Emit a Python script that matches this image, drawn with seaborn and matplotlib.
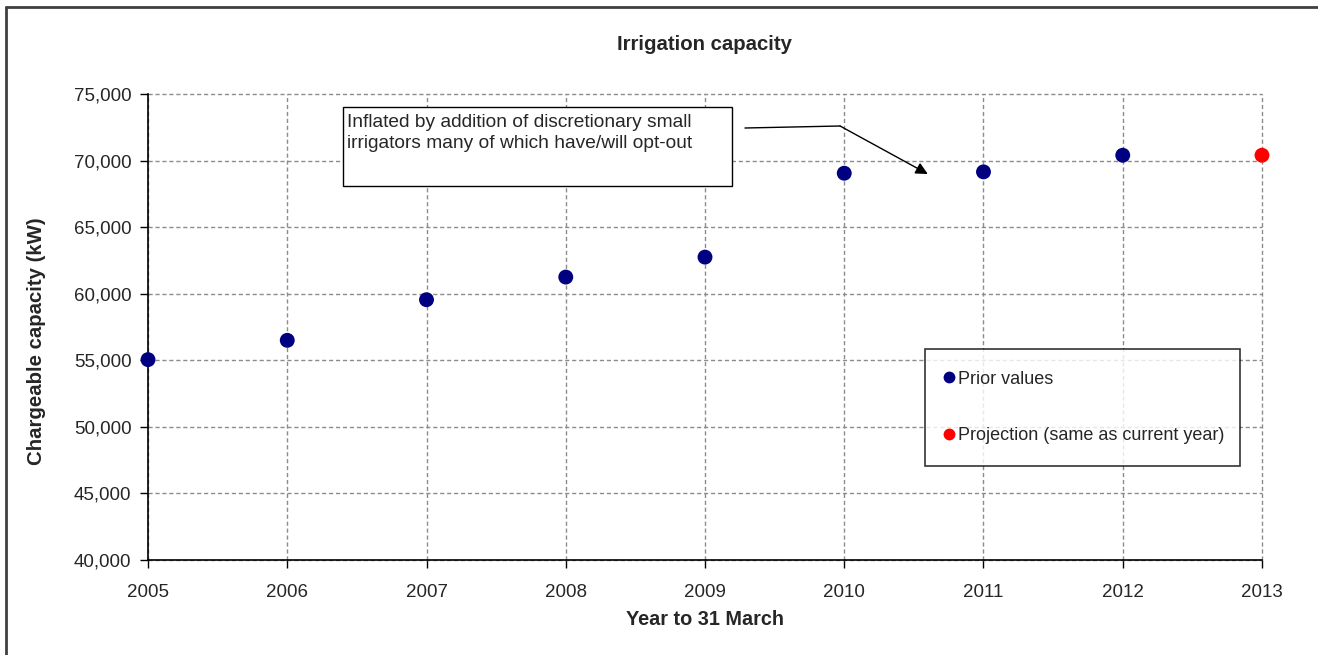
import matplotlib
matplotlib.use("Agg")
import matplotlib.pyplot as plt
import matplotlib.ticker as mticker
from matplotlib.lines import Line2D
import pandas as pd
import seaborn as sns

# data
years = [2005, 2006, 2007, 2008, 2009, 2010, 2011, 2012]
prior_values = [55050, 56500, 59550, 61250, 62750, 69050, 69150, 70400]
proj_years = [2013]
proj_values = [70400]
series_names = ["Prior values", "Projection (same as current year)"]
year_ticks = list(range(2005, 2014))
capacity_ticks = list(range(40000, 75001, 5000))
note_text = ("Inflated by addition of discretionary small\n"
             "irrigators many of which have/will opt-out")

df = pd.DataFrame({
    "year": years + proj_years,
    "capacity": prior_values + proj_values,
    "series": [series_names[0]] * len(years) + [series_names[1]] * len(proj_years),
})

sns.set_style("white")
plt.rcParams["font.family"] = ["Liberation Sans", "DejaVu Sans"]

fig = plt.figure(figsize=(13.18, 6.55), dpi=100)
ax = fig.add_axes([0.1123, 0.145, 0.8452, 0.7115])

sns.scatterplot(data=df, x="year", y="capacity", hue="series",
                palette={series_names[0]: "#000080", series_names[1]: "#ff0000"},
                s=115, linewidth=0, ax=ax, zorder=3, clip_on=False)

ax.set_xlim(2005, 2013)
ax.set_ylim(40000, 75000)
ax.set_xticks(year_ticks)
ax.set_yticks(capacity_ticks)
ax.yaxis.set_major_formatter(mticker.StrMethodFormatter("{x:,.0f}"))
ax.tick_params(axis="both", which="major", direction="out", length=6, width=1,
               color="black", labelsize=13.5, left=True, bottom=True)
ax.tick_params(axis="x", pad=11)
ax.tick_params(axis="y", pad=6)
ax.grid(True, color="#8c8c8c", linestyle=(0, (3, 2)), linewidth=1)
for gl in ax.get_xgridlines() + ax.get_ygridlines():
    gl.set_clip_on(False)
for side in ["top", "right"]:
    ax.spines[side].set_visible(False)
for side in ["left", "bottom"]:
    ax.spines[side].set_color("black")
    ax.spines[side].set_linewidth(1.2)

ax.set_xlabel("Year to 31 March", fontsize=14.3, fontweight="bold", labelpad=7)
ax.set_ylabel("Chargeable capacity (kW)", fontsize=14.7, fontweight="bold")
ax.yaxis.set_label_coords(-0.0916, 0.47)
ax.set_title("Irrigation capacity", fontsize=14.7, fontweight="bold", pad=32)

# annotation box with bent arrow
ax.text(2006.43, 73500, note_text, fontsize=13.75, va="top", ha="left",
        linespacing=1.32, zorder=4)
ax.add_patch(plt.Rectangle((2006.40, 68090), 2009.194 - 2006.40, 74024 - 68090,
                           facecolor="white", edgecolor="black", linewidth=1, zorder=3))
ax.plot([2009.287, 2009.97], [72446, 72596], color="black", linewidth=1, zorder=4)
ax.annotate("", xy=(2010.60, 68991), xytext=(2009.97, 72596),
            arrowprops=dict(arrowstyle="-|>", color="black", lw=1,
                            mutation_scale=18, shrinkA=0, shrinkB=0), zorder=4)

handles, labels = ax.get_legend_handles_labels()
for h in handles:
    h.set_markersize(8.5)
leg = ax.legend(handles, labels, loc="upper left",
                bbox_to_anchor=(0.6975, 0.2103, 0.2828, 0.2425), mode="expand",
                fontsize=13, frameon=True, fancybox=False, shadow=False,
                labelspacing=2.17, handletextpad=0.3, borderpad=1.2,
                handlelength=0.3, borderaxespad=0)
leg.get_frame().set_edgecolor("black")
leg.get_frame().set_linewidth(1.2)
leg.set_zorder(5)

# outer chart border (only left and top visible in the crop)
fig.add_artist(Line2D([6 / 1318, 6 / 1318], [0, 1 - 7 / 655], color="#404040", lw=2))
fig.add_artist(Line2D([6 / 1318, 1], [1 - 7 / 655, 1 - 7 / 655], color="#404040", lw=2))

fig.savefig("out.png", dpi=100)
